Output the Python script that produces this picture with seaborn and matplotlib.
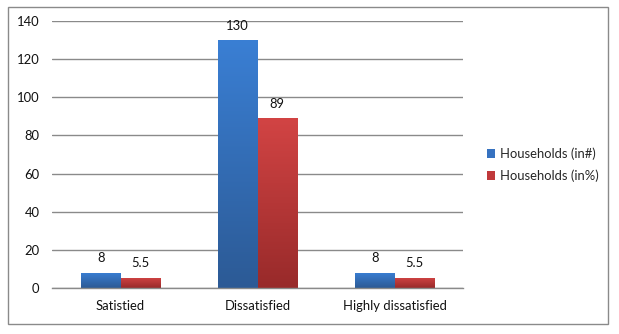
import numpy as np
import pandas as pd
import matplotlib
matplotlib.use("Agg")
import matplotlib.pyplot as plt
import seaborn as sns
from matplotlib.colors import LinearSegmentedColormap
from matplotlib.patches import Rectangle

categories = ["Satistied", "Dissatisfied", "Highly dissatisfied"]
series_names = ["Households (in#)", "Households (in%)"]
households_num = [8, 130, 8]
households_pct = [5.5, 89, 5.5]
value_labels_num = ["8", "130", "8"]
value_labels_pct = ["5.5", "89", "5.5"]
y_ticks = [0, 20, 40, 60, 80, 100, 120, 140]

df = pd.DataFrame({
    "category": categories * 2,
    "series": [series_names[0]] * 3 + [series_names[1]] * 3,
    "value": households_num + households_pct,
})

sns.set_theme(style="white")
plt.rcParams["font.family"] = ["Lato", "DejaVu Sans"]

FS = 9.4
fig = plt.figure(figsize=(6.19, 3.34), dpi=100)
W, H = 619, 334
ax = fig.add_axes([52 / W, 1 - 288 / H, (463 - 52) / W, (288 - 21) / H])

palette = {series_names[0]: "#3672c0", series_names[1]: "#c0393b"}
sns.barplot(data=df, x="category", y="value", hue="series", order=categories,
            hue_order=series_names, palette=palette, width=0.58, gap=0,
            ax=ax, saturation=1, legend=True)

ax.set_xlim(-0.5, 2.5)
ax.set_ylim(0, 140)
ax.set_yticks(y_ticks)
ax.yaxis.grid(True, color="#8a8a8a", linewidth=1)
ax.set_axisbelow(True)
for s in ["top", "right", "left"]:
    ax.spines[s].set_visible(False)
ax.spines["bottom"].set_color("#8a8a8a")
ax.spines["bottom"].set_linewidth(1)
ax.tick_params(axis="both", length=0, labelsize=FS, colors="#111111", pad=9)
ax.tick_params(axis="x", pad=9)
ax.set_xlabel("")
ax.set_ylabel("")

# gradient fills
cmaps = [
    LinearSegmentedColormap.from_list("b", ["#2c5a95", "#3a7fd4"]),
    LinearSegmentedColormap.from_list("r", ["#982a2a", "#d24444"]),
]
grad = np.linspace(0, 1, 256).reshape(-1, 1)
containers = ax.containers
for ci, cont in enumerate(containers):
    for p in cont.patches:
        x0, y0 = p.get_x(), p.get_y()
        w, h = p.get_width(), p.get_height()
        im = ax.imshow(grad, extent=[x0, x0 + w, y0, y0 + h], origin="lower",
                       cmap=cmaps[ci], aspect="auto", zorder=p.get_zorder())
        im.set_clip_path(p)
        p.set_edgecolor("none")

labels_all = [value_labels_num, value_labels_pct]
for ci, cont in enumerate(containers):
    ax.bar_label(cont, labels=labels_all[ci], padding=6, fontsize=FS, color="#111111")

ax.set_xlim(-0.5, 2.5)
ax.set_ylim(0, 140)

# legend
handles = [Rectangle((0, 0), 1, 1, facecolor=palette[n], edgecolor="none") for n in series_names]
fig.legend(handles, series_names, loc="center left", bbox_to_anchor=(475 / W, 1 - 165 / H),
           frameon=False, fontsize=FS, handlelength=0.65, handleheight=0.65,
           handletextpad=0.35, labelspacing=0.75)
old = ax.get_legend()
if old is not None:
    old.remove()

# outer border
fig.patches.append(Rectangle((8 / W, 1 - 324 / H), 600 / W, 317 / H, transform=fig.transFigure,
                             facecolor="none", edgecolor="#8a8a8a", linewidth=1))

fig.savefig("out.png", dpi=100)
